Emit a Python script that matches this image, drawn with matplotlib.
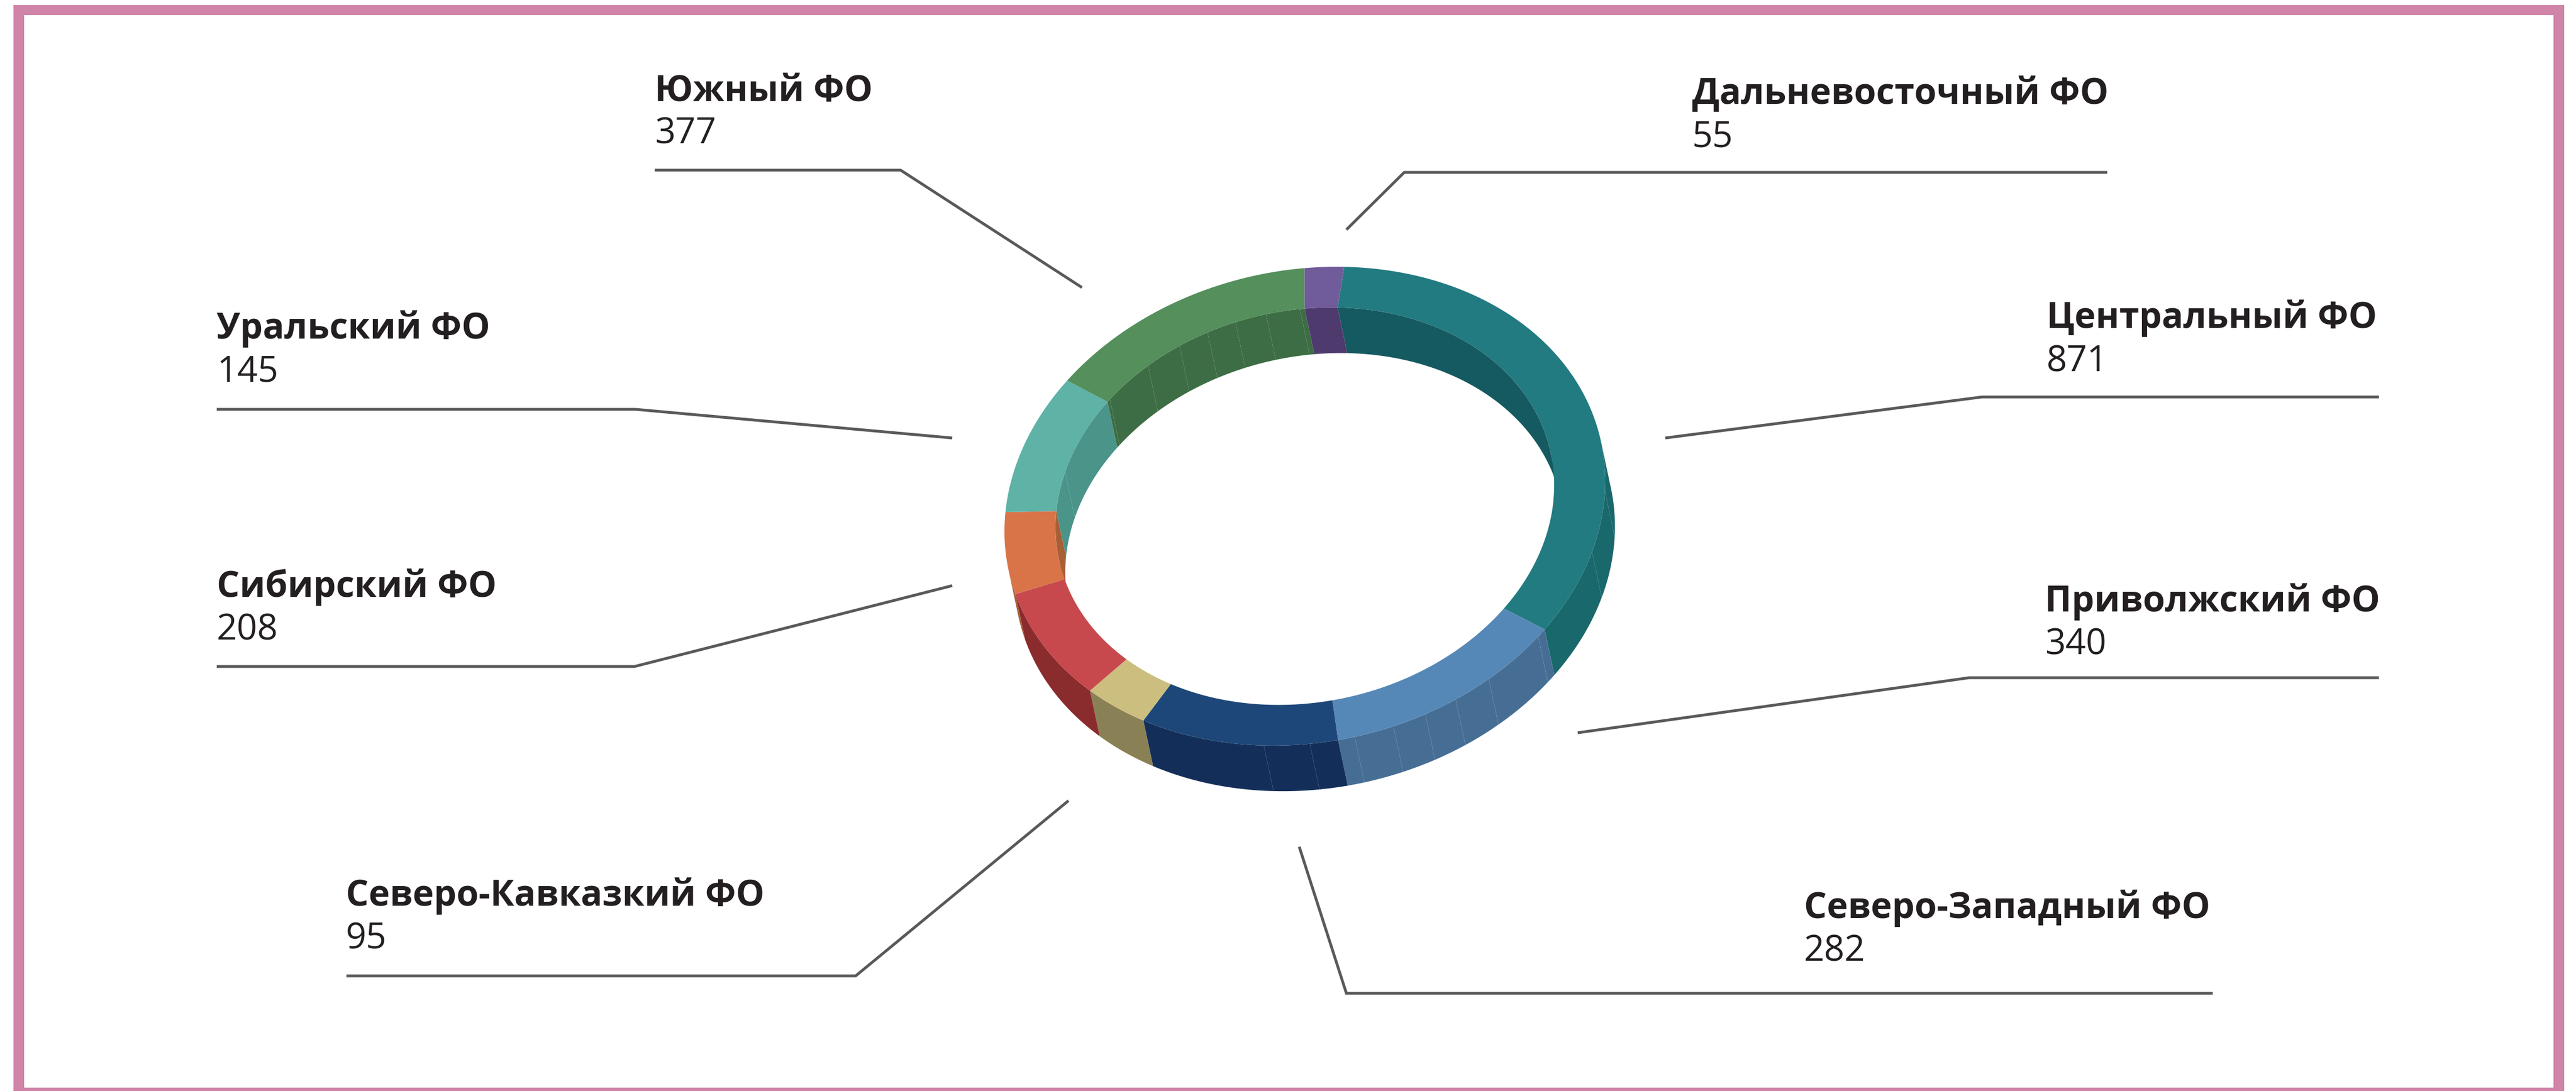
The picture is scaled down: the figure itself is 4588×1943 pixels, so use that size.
import numpy as np
import matplotlib
matplotlib.use("Agg")
import matplotlib.pyplot as plt
from matplotlib.patches import Polygon, Rectangle

# ---- data, clockwise from the top ----
slice_names = ["Центральный ФО", "Приволжский ФО", "Северо-Западный ФО", "Северо-Кавказкий ФО",
               "Сибирский ФО", "Уральский ФО", "(без подписи)", "Южный ФО", "Дальневосточный ФО"]
slice_values = [871, 340, 282, 95, 208, 145, 238, 377, 55]
top_colors = ["#227B80", "#5688B7", "#1E4779", "#CCBE7F", "#C8494D", "#D97449", "#5EB2A6", "#548F5C", "#715C9B"]
outer_colors = ["#19686C", "#466E94", "#132F59", "#8A8055", "#8A2C2E", "#A85F36", "#4A9489", "#3F7046", "#4F3A6E"]
inner_colors = ["#155A60", "#466E94", "#132F59", "#8A8055", "#8A2C2E", "#A85F36", "#4A9489", "#3D6D44", "#4F3A6E"]

# ---- facet seams on the walls (degrees round the ring) ----
outer_seams = [86.4, 101, 123, 136.2, 143.8, 150.3, 156.8, 164.4, 173, 181.8]
inner_seams = [279.9, 302.5, 315, 323.8, 331, 337.8, 345, 352.8]

# ---- labels ----
label_names = ["Южный ФО", "Дальневосточный ФО", "Уральский ФО", "Центральный ФО",
               "Сибирский ФО", "Приволжский ФО", "Северо-Кавказкий ФО", "Северо-Западный ФО"]
label_values = ["377", "55", "145", "871", "208", "340", "95", "282"]
label_x = [1166, 3014, 386, 3645, 386, 3642, 616, 3213]
label_name_y = [180, 185, 603, 584, 1063, 1089, 1613, 1635]
label_value_y = [256, 262, 680, 661, 1140, 1165, 1690, 1712]
leader_x = [[1166, 1604, 1927], [2398, 2501, 3753], [386, 1132, 1696], [2966, 3530, 4237],
            [386, 1130, 1696], [2810, 3507, 4237], [617, 1524, 1903], [2314, 2398, 3941]]
leader_y = [[303, 303, 512], [409, 307, 307], [729, 729, 780], [780, 707, 707],
            [1187, 1187, 1043], [1305, 1207, 1207], [1738, 1738, 1426], [1508, 1769, 1769]]

W, H = 4588, 1943
fig = plt.figure(figsize=(W / 100, H / 100), dpi=100, facecolor="white")
ax = fig.add_axes([0, 0, 1, 1])
ax.set_xlim(0, W)
ax.set_ylim(H, 0)
ax.axis("off")

# frame: four bands, the bottom one running off the picture
frame = "#D084A8"
for x0, y0, w, h in [(24, 9, 4543, 18), (24, 9, 19, H), (4548, 9, 19, H), (24, 1937, 4543, 10)]:
    ax.add_patch(Rectangle((x0, y0), w, h, fc=frame, ec="none", zorder=1))

# ring geometry
cx, cy = 2324.0, 901.5
inner_ratio = 0.83
off_x, off_y = 17.3, 81.2
start_deg = 1.5
deg_per_unit = 360.0 / sum(slice_values)
edges = start_deg + np.concatenate([[0], np.cumsum(slice_values)]) * deg_per_unit
# slight angular squeeze of the reference's 3D view
edges = edges - 0.45 * (1 - np.cos(np.radians(edges - 10)))


def ring(t_deg, r=1.0, dx=0.0, dy=0.0):
    t = np.radians(t_deg)
    return np.column_stack([cx + dx + r * (532 * np.sin(t) + 56.4 * np.cos(t)),
                            cy + dy - r * 426.4 * np.cos(t)])


def arc(a, b):
    return np.linspace(a, b, max(int(abs(b - a) * 2) + 2, 3))


def wall(a, b, r, color, z):
    ts = arc(a, b)
    pts = np.vstack([ring(ts, r), ring(ts[::-1], r, off_x, off_y)])
    ax.add_patch(Polygon(pts, closed=True, fc=color, ec="none", zorder=z))


def clipped_walls(a, b, vis_a, vis_b, seams, r, color, z):
    lo, hi = max(a, vis_a), min(b, vis_b)
    if hi <= lo:
        return
    cuts = [lo] + [s for s in seams if lo < s < hi] + [hi]
    for p, q in zip(cuts[:-1], cuts[1:]):
        wall(p, q, r, color, z)


vis_mid = 164.5
for i in range(len(slice_values)):
    a, b = edges[i], edges[i + 1]
    clipped_walls(a, b, vis_mid + 90, vis_mid + 270, inner_seams, inner_ratio, inner_colors[i], 2)
    clipped_walls(a + 360, b + 360, vis_mid + 90, vis_mid + 270,
                  [s + 360 for s in inner_seams], inner_ratio, inner_colors[i], 2)
    clipped_walls(a, b, vis_mid - 90, vis_mid + 90, outer_seams, 1.0, outer_colors[i], 3)

for i in range(len(slice_values)):
    ts = arc(edges[i], edges[i + 1])
    pts = np.vstack([ring(ts, 1.0), ring(ts[::-1], inner_ratio)])
    ax.add_patch(Polygon(pts, closed=True, fc=top_colors[i], ec="none", zorder=4))

# labels and leaders
fam = ["Open Sans", "DejaVu Sans"]
for name, val, x, y1, y2, lx, ly in zip(label_names, label_values, label_x, label_name_y, label_value_y, leader_x, leader_y):
    ax.plot(lx, ly, color="#58595B", lw=3.6, solid_capstyle="butt", solid_joinstyle="miter", zorder=5)
    ax.text(x, y1, name, family=fam, weight="bold", fontsize=45.9, color="#231F20", va="baseline", ha="left", zorder=6)
    ax.text(x, y2, val, family=fam, fontsize=45.9, color="#231F20", va="baseline", ha="left", zorder=6)

fig.savefig("out.png", dpi=100, facecolor="white")
